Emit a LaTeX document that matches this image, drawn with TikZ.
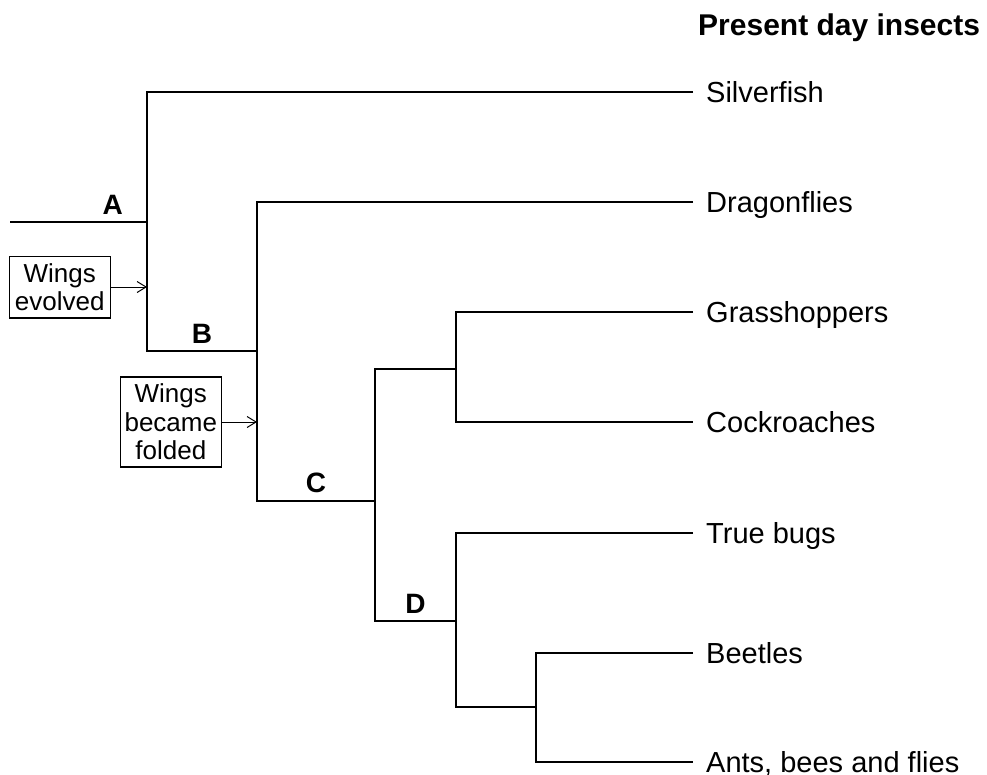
\documentclass[tikz,border=0pt]{standalone}
\usepackage{fontspec}
\setmainfont{Liberation Sans}
\usepackage{tikz}
\usetikzlibrary{positioning, arrows.meta}

\tikzset{
	branch/.style={line width=2pt},
	taxon/.style={anchor=west, inner xsep=13pt, inner ysep=0pt, text height=21pt, text depth=0pt, font=\fontsize{29}{34}\selectfont},
	clade/.style={above, inner sep=7pt, font=\fontsize{28}{34}\selectfont\bfseries},
	event/.style={draw, line width=1.4pt, align=center, minimum width=101pt, inner xsep=3pt, inner ysep=7pt, font=\fontsize{26}{28.5}\selectfont},
	note/.style={-{Straight Barb[length=9pt, width=11pt]}, line width=1pt}
}

\begin{document}
\begin{tikzpicture}[x=1pt, y=-1pt]

	\useasboundingbox (0,0) rectangle (987,774);

	\node[anchor=base west, inner sep=0pt, font=\fontsize{30}{34}\selectfont\bfseries] (title) at (698,35.5) {Present day insects};

	\coordinate (root) at (10,222);
	\coordinate (nA) at (147,222);
	\coordinate (nB) at (257,351);
	\coordinate (nC) at (375,501);
	\coordinate (nG) at (456,369);
	\coordinate (nD) at (456,621);
	\coordinate (nE) at (536,707);

	\node[taxon] (silverfish) at (693,92) {Silverfish};
	\node[taxon] (dragonflies) at (693,202) {Dragonflies};
	\node[taxon] (grasshoppers) at (693,312) {Grasshoppers};
	\node[taxon] (cockroaches) at (693,422) {Cockroaches};
	\node[taxon] (truebugs) at (693,533) {True bugs};
	\node[taxon] (beetles) at (693,653) {Beetles};
	\node[taxon] (ants) at (693,762) {Ants, bees and flies};

	\coordinate (wingsA) at (147,287);
	\coordinate (wingsB) at (257,422);
	\node[event] (evolved) [left=36pt of wingsA] {Wings\\evolved};
	\node[event] (folded) [left=35pt of wingsB] {Wings\\became\\folded};

	\draw[branch] (root) -- node[clade, pos=0.75] (labA) {A} (nA);
	\draw[branch] (silverfish.west) -| (nA) |- node[clade, pos=0.75] (labB) {B} (nB);
	\draw[branch] (dragonflies.west) -| (nB) |- node[clade, pos=0.75] (labC) {C} (nC);
	\draw[branch] (nG) -| (nC) |- node[clade, pos=0.75] (labD) {D} (nD);
	\draw[branch] (grasshoppers.west) -| (nG) |- (cockroaches.west);
	\draw[branch] (truebugs.west) -| (nD) |- (nE);
	\draw[branch] (beetles.west) -| (nE) |- (ants.west);

	\draw[note] (evolved) -- (wingsA);
	\draw[note] (folded) -- (wingsB);

\end{tikzpicture}
\end{document}
